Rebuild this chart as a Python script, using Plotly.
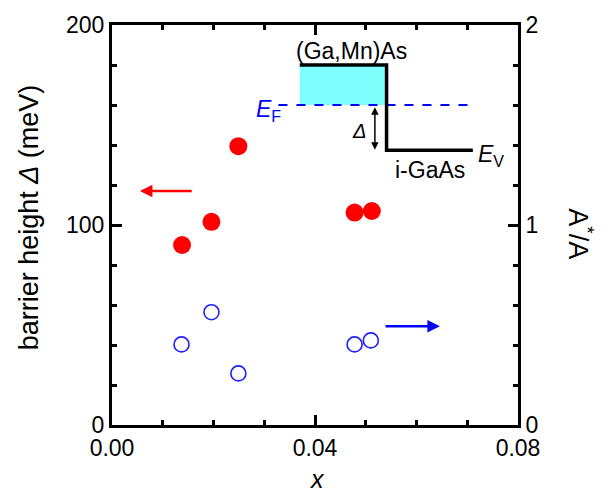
import plotly.graph_objects as go

# ---- data ----
x_delta = [0.0138, 0.0196, 0.0249, 0.0478, 0.0512]
delta_meV = [90.0, 101.6, 139.4, 106.2, 107.0]

x_ratio = [0.0137, 0.0196, 0.0249, 0.0478, 0.0510]
ratio_AA = [0.403, 0.564, 0.258, 0.403, 0.423]

x_ticks = [0.0, 0.04, 0.08]
x_ticklabels = ["0.00", "0.04", "0.08"]
y_ticks = [0, 100, 200]
y2_ticks = [0, 1, 2]

# inset band diagram (in left-axis data units)
band_x = [0.0370, 0.0541, 0.0541, 0.0711]
band_y = [180.0, 180.0, 137.4, 137.4]
fermi_x = [0.0328, 0.0711]
fermi_y = [160.0, 160.0]

FONT = "Liberation Sans, Arial, sans-serif"

fig = go.Figure()

fig.add_shape(type="rect", x0=band_x[0], x1=band_x[1], y0=fermi_y[0], y1=band_y[0],
              xref="x", yref="y", fillcolor="#80ffff", line=dict(width=0), layer="below")

fig.add_trace(go.Scatter(x=fermi_x, y=fermi_y, mode="lines",
                         line=dict(color="#0000ff", width=2, dash="dash"),
                         hoverinfo="skip"))
fig.add_trace(go.Scatter(x=band_x, y=band_y, mode="lines",
                         line=dict(color="black", width=3.5),
                         hoverinfo="skip"))

fig.add_trace(go.Scatter(x=x_delta, y=delta_meV, mode="markers",
                         marker=dict(size=18, color="#ff0000", line=dict(width=0))))
fig.add_trace(go.Scatter(x=x_ratio, y=ratio_AA, mode="markers", yaxis="y2",
                         marker=dict(size=15, symbol="circle-open", color="#1f1fff",
                                     line=dict(width=1.6, color="#1f1fff"))))

axis_common = dict(showgrid=False, zeroline=False, showline=True, linewidth=3,
                   linecolor="black", ticks="inside", ticklen=10, tickwidth=3,
                   tickcolor="black", tickfont=dict(family=FONT, size=23, color="black"))

fig.update_layout(
    width=611, height=494,
    margin=dict(l=112, r=93, t=20, b=69),
    paper_bgcolor="white", plot_bgcolor="white",
    showlegend=False,
    xaxis=dict(range=[0, 0.08], tickvals=x_ticks, ticktext=x_ticklabels,
               mirror="ticks",
               minor=dict(dtick=0.01, tick0=0, ticks="inside", ticklen=5, tickwidth=3,
                          tickcolor="black"),
               **axis_common),
    yaxis=dict(range=[0, 200], tickvals=y_ticks,
               minor=dict(dtick=20, tick0=0, ticks="inside", ticklen=5, tickwidth=3,
                          tickcolor="black"),
               **axis_common),
    yaxis2=dict(range=[0, 2], tickvals=y2_ticks, overlaying="y", side="right",
                minor=dict(dtick=0.2, tick0=0, ticks="inside", ticklen=5, tickwidth=3,
                           tickcolor="black"),
                **axis_common),
)

ann = []
# axis titles
ann.append(dict(text="<i>x</i>", xref="paper", yref="paper", x=0.505, y=-0.134,
                showarrow=False, font=dict(family=FONT, size=25, color="black"),
                xanchor="center", yanchor="middle"))
ann.append(dict(text="barrier height <i>Δ</i> (meV)", xref="paper", yref="paper",
                x=-0.205, y=0.5185, textangle=-90, showarrow=False,
                font=dict(family=FONT, size=27, color="black"),
                xanchor="center", yanchor="middle"))
ann.append(dict(text="A<sup>*</sup>/A", xref="paper", yref="paper",
                x=1.153, y=0.479, textangle=90, showarrow=False,
                font=dict(family=FONT, size=27, color="black"),
                xanchor="center", yanchor="middle"))
# arrows pointing to axes
ann.append(dict(x=0.0055, y=117, ax=0.0160, ay=117, xref="x", yref="y",
                axref="x", ayref="y", showarrow=True, arrowhead=2, arrowsize=1,
                arrowwidth=2.5, arrowcolor="#ff0000", text=""))
ann.append(dict(x=0.0646, y=49.4, ax=0.0536, ay=49.4, xref="x", yref="y",
                axref="x", ayref="y", showarrow=True, arrowhead=2, arrowsize=1,
                arrowwidth=2.5, arrowcolor="#0000ff", text=""))
# double arrow for barrier
ann.append(dict(x=0.0518, y=137.6, ax=0.0518, ay=159.6, xref="x", yref="y",
                axref="x", ayref="y", showarrow=True, arrowhead=2, startarrowhead=2,
                arrowside="end+start", arrowsize=1, startarrowsize=1,
                arrowwidth=1.5, arrowcolor="black", text=""))
# inset labels
ann.append(dict(text="(Ga,Mn)As", x=0.0472, y=187, xref="x", yref="y", showarrow=False,
                font=dict(family=FONT, size=23, color="black")))
ann.append(dict(text="i-GaAs", x=0.0627, y=127.5, xref="x", yref="y", showarrow=False,
                font=dict(family=FONT, size=23, color="black")))
ann.append(dict(text="<i>E</i><sub>V</sub>", x=0.0746, y=135, xref="x", yref="y",
                showarrow=False, font=dict(family=FONT, size=23, color="black")))
ann.append(dict(text="<i>E</i><sub>F</sub>", x=0.0308, y=157.5, xref="x", yref="y",
                showarrow=False, font=dict(family=FONT, size=23, color="#0000ff")))
ann.append(dict(text="<i>Δ</i>", x=0.0487, y=147, xref="x", yref="y",
                showarrow=False, font=dict(family=FONT, size=20, color="black")))

fig.update_layout(annotations=ann)

fig.write_html("out.html")
